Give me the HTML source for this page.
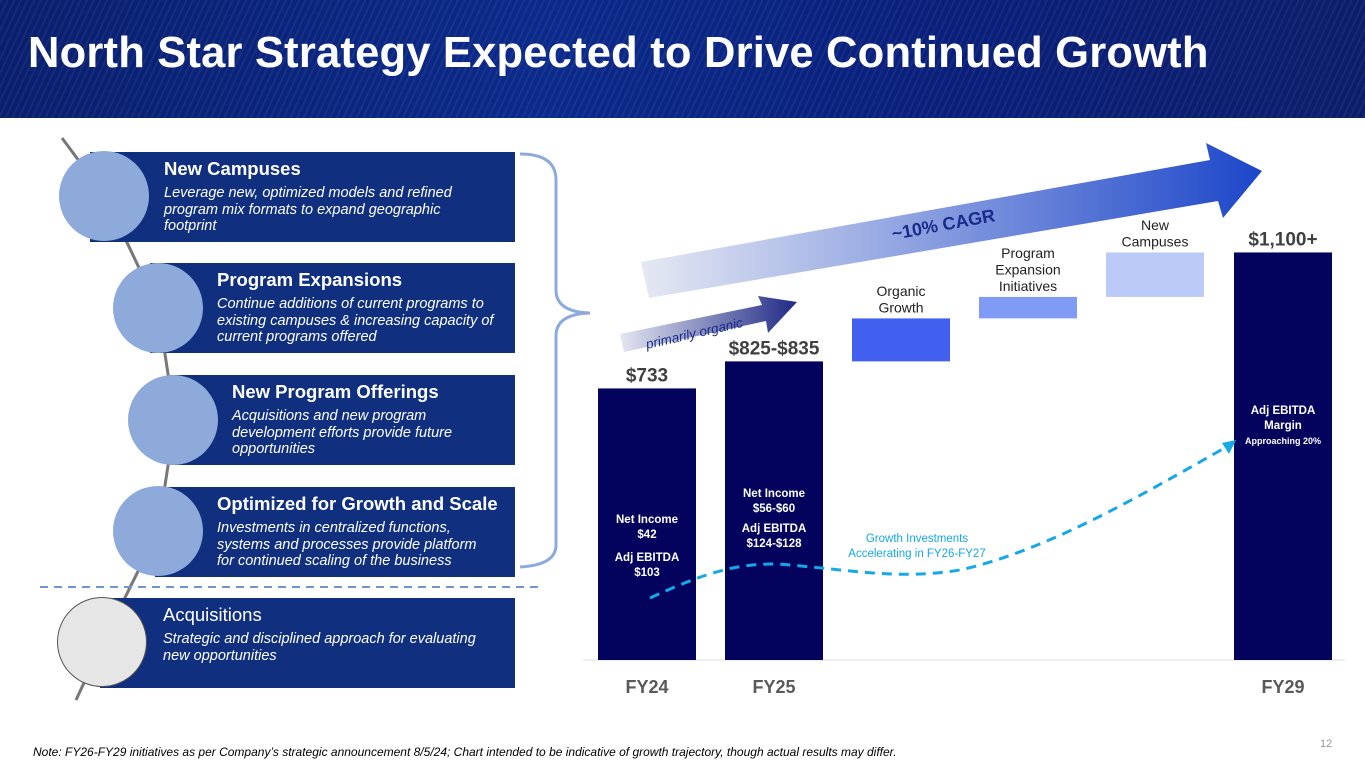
<!DOCTYPE html>
<html><head><meta charset="utf-8">
<style>
body{margin:0;width:1365px;height:768px;overflow:hidden;background:#fff;font-family:"Liberation Sans",Arial,sans-serif;position:relative}
.hdr{position:absolute;left:0;top:0;width:1365px;height:118px;background:linear-gradient(90deg,#0a1f6e 0%,#0b2a8a 40%,#0a1f7a 70%,#0c1e6a 100%);}
.hdr:after{content:"";position:absolute;inset:0;background:repeating-linear-gradient(115deg,rgba(255,255,255,0.05) 0 2px,rgba(0,0,0,0) 2px 6px)}
.title{position:absolute;left:28px;top:29px;font-size:43.5px;font-weight:bold;color:#fff;letter-spacing:0.2px;z-index:2}
.box{position:absolute;background:#10307f;color:#fff;height:90px;width:425px}
.box .h{position:absolute;top:6px;font-size:18.5px;font-weight:bold}
.box .d{position:absolute;top:33px;font-size:14.5px;font-style:italic;line-height:16.5px}
.circ{position:absolute;width:90px;height:90px;border-radius:50%;background:#8eaadb}
.note{position:absolute;left:33px;top:745px;font-size:12px;font-style:italic;color:#000}
.pg{position:absolute;left:1320px;top:738px;font-size:11px;color:#999}
</style></head><body>
<div class="hdr"></div>
<div class="title">North Star Strategy Expected to Drive Continued Growth</div>

<svg style="position:absolute;left:0;top:0" width="600" height="768">
<polyline points="62,138 105,196 158,308 175,420 158,531 103,642 76,700" fill="none" stroke="#777" stroke-width="3"/>
<line x1="40" y1="587" x2="540" y2="587" stroke="#6f95cf" stroke-width="2" stroke-dasharray="8,6"/>
<path d="M520,154 Q556,154 556,180 L556,290 Q556,312 590,313 Q556,314 556,336 L556,545 Q556,565 520,567" fill="none" stroke="#8eaadb" stroke-width="3"/>
</svg>

<div class="box" style="left:90px;top:152px"><div class="h" style="left:74px">New Campuses</div><div class="d" style="left:74px;width:315px">Leverage new, optimized models and refined program mix formats to expand geographic footprint</div></div>
<div class="circ" style="left:59px;top:151px"></div>
<div class="box" style="left:150px;top:263px;width:365px"><div class="h" style="left:67px">Program Expansions</div><div class="d" style="left:67px;width:285px">Continue additions of current programs to existing campuses &amp; increasing capacity of current programs offered</div></div>
<div class="circ" style="left:113px;top:263px"></div>
<div class="box" style="left:170px;top:375px;width:345px"><div class="h" style="left:62px">New Program Offerings</div><div class="d" style="left:62px;width:265px">Acquisitions and new program development efforts provide future opportunities</div></div>
<div class="circ" style="left:128px;top:375px"></div>
<div class="box" style="left:155px;top:487px;width:360px"><div class="h" style="left:62px">Optimized for Growth and Scale</div><div class="d" style="left:62px;width:275px">Investments in centralized functions, systems and processes provide platform for continued scaling of the business</div></div>
<div class="circ" style="left:113px;top:486px"></div>
<div class="box" style="left:100px;top:598px;width:415px"><div class="h" style="left:63px;font-weight:normal">Acquisitions</div><div class="d" style="left:63px;width:330px">Strategic and disciplined approach for evaluating new opportunities</div></div>
<div class="circ" style="left:57px;top:597px;width:88px;height:88px;background:#e6e6e6;border:1px solid #555"></div>

<svg id="chart" style="position:absolute;left:0;top:0" width="1365" height="768">
<defs>
<linearGradient id="g1" x1="0" x2="1"><stop offset="0" stop-color="#e6e9f3"/><stop offset="1" stop-color="#1c46c9"/></linearGradient>
<linearGradient id="g2" x1="0" x2="1"><stop offset="0" stop-color="#e3e6f1"/><stop offset="1" stop-color="#202a85"/></linearGradient>
</defs>
<g>
<polygon points="641,262 1210,160 1206,143 1262,171 1223,218 1218,201 649,298" fill="url(#g1)"/>
<text x="0" y="0" transform="translate(893,240) rotate(-10.5)" font-size="18" font-weight="bold" fill="#1a2a8a">~10% CAGR</text>
</g>
<g>
<polygon points="620,334 762,305 758,296 797,302 768,333 766,321 624,352" fill="url(#g2)"/>
<text transform="translate(647,349) rotate(-13)" font-size="13.5" font-style="italic" fill="#1a2a8a">primarily organic</text>
</g>
<line x1="583" y1="660" x2="1345" y2="660" stroke="#ddd" stroke-width="1"/>
<g id="marks"></g>
</svg>
<div class="note">Note: FY26-FY29 initiatives as per Company’s strategic announcement 8/5/24; Chart intended to be indicative of growth trajectory, though actual results may differ.</div>
<div class="pg">12</div>

<script>
const years = ["FY24","FY25","FY29"];
const revenue = [733, 806, 1100];
const revenueLabels = ["$733","$825-$835","$1,100+"];
const bridgeLabels = ["Organic Growth","Program Expansion Initiatives","New Campuses"];
const bridgeStart = [806, 922, 980];
const bridgeEnd = [922, 980, 1100];
const ns = "http://www.w3.org/2000/svg";
const g = document.getElementById("marks");
const base = 660, k = 0.3705;
function y(v){return base - v*k;}
const slotX = [598,725,852,979,1106,1234];
const bw = 98;
const barSlot = [0,1,5];
function mk(t,a){const e=document.createElementNS(ns,t);for(const key in a)e.setAttribute(key,a[key]);g.appendChild(e);return e;}
function txt(x,yy,s,size,col,bold){const t=mk("text",{x:x,y:yy,"text-anchor":"middle","font-size":size,fill:col,"font-weight":bold?"bold":"normal"});t.textContent=s;return t;}
revenue.forEach((v,i)=>{
  const x=slotX[barSlot[i]];
  const r=mk("rect",{x:x,y:y(v),width:bw,height:base-y(v),fill:"#03035e"});
  
  
  const l=txt(x+bw/2,y(v)-7,revenueLabels[i],19,"#404040",true);
  
  
  const a=txt(x+bw/2,693,years[i],18,"#595959",true);
  
  
});
const bcol=["#4260f0","#7f9bf5","#bccaf7"];
bridgeStart.forEach((s,i)=>{
  const x=slotX[2+i];
  const r=mk("rect",{x:x,y:y(bridgeEnd[i]),width:bw,height:y(s)-y(bridgeEnd[i]),fill:bcol[i]});
  
  
  const lines=bridgeLabels[i].split(" ");
  lines.forEach((w,j)=>{
    const t=txt(x+bw/2,y(bridgeEnd[i])-6-(lines.length-1-j)*16.5,w,14,"#222",false);
    
    
  });
});
const inner=[[647,[["Net Income",523],["$42",538],["Adj EBITDA",561],["$103",576]]],[774,[["Net Income",497],["$56-$60",512],["Adj EBITDA",532],["$124-$128",547]]],[1283,[["Adj EBITDA",414],["Margin",429]]]];
inner.forEach(b=>b[1].forEach(p=>{const t=txt(b[0],p[1],p[0],11.5,"#fff",true);}));
const ap=txt(1283,444,"Approaching 20%",9,"#fff",true);


const d=mk("path",{d:"M650,598 C700,575 740,560 790,565 C850,570 900,580 960,570 C1050,550 1150,490 1228,446",fill:"none",stroke:"#16a8e6","stroke-width":3,"stroke-dasharray":"10,7"});


const ah=mk("polygon",{points:"1236,440 1222,443 1229,454",fill:"#16a8e6"});


const t1=txt(917,542,"Growth Investments",11.5,"#16a8e6",false);


const t2=txt(917,557,"Accelerating in FY26-FY27",11.5,"#16a8e6",false);


</script>
</body></html>
